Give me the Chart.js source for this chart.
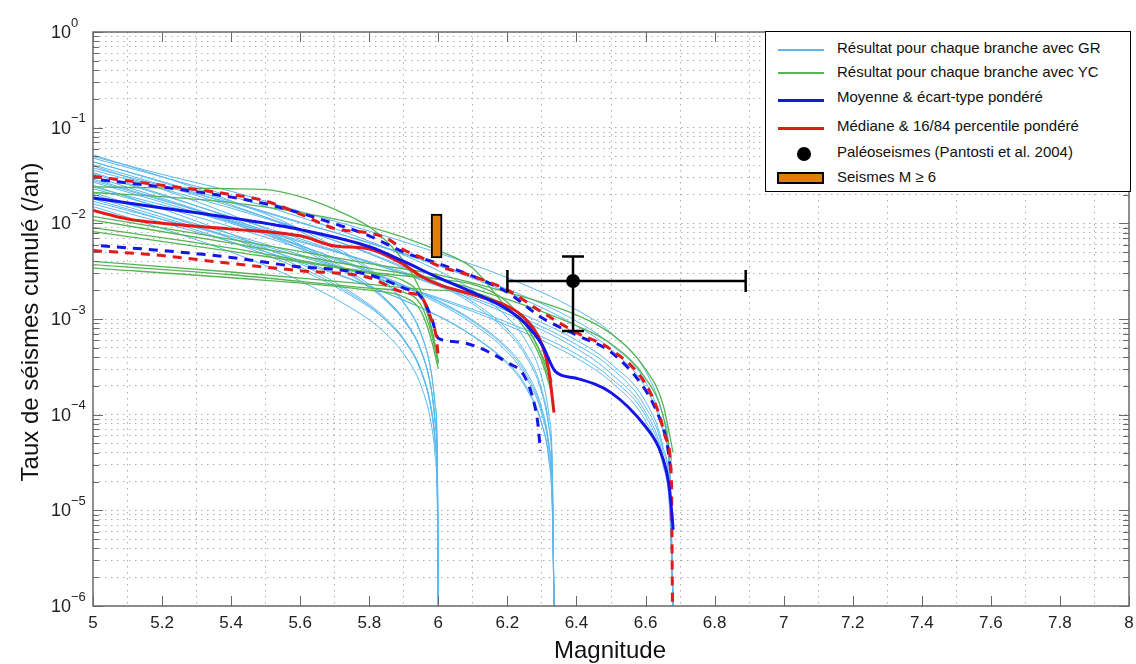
<!DOCTYPE html>
<html lang="fr">
<head>
<meta charset="utf-8">
<title>Taux de séismes cumulé</title>
<script src="https://cdn.jsdelivr.net/npm/chart.js@4.4.1/dist/chart.umd.min.js"></script>
<style>
  body { margin: 0; background: #fff; }
  #cadre { position: relative; width: 1136px; height: 664px; font-family: "Liberation Sans", Arial, sans-serif; color: #111; }
  #cadre canvas { position: absolute; left: 0; top: 0; }
  #legende { position: absolute; left: 765px; top: 31px; width: 364px; height: 159px; border: 1px solid #000; background: #fff; }
  #legende .txt { position: absolute; left: 71px; font-size: 15px; line-height: 18px; white-space: nowrap; }
  #legende .trait { position: absolute; left: 12px; width: 46px; }
  #titreX { position: absolute; left: 510px; width: 200px; top: 636px; text-align: center; font-size: 24px; }
  #titreY { position: absolute; left: 30px; top: 322px; width: 400px; margin-left: -200px; margin-top: -14px; text-align: center; font-size: 24px; line-height: 28px; transform: rotate(-90deg); white-space: nowrap; }
</style>
</head>
<body>
<div id="cadre">
  <canvas id="graphique" width="1136" height="664"></canvas>
  <div id="titreX">Magnitude</div>
  <div id="titreY">Taux de séismes cumulé (/an)</div>
  <div id="legende">
    <div class="trait" style="top:17px;height:1.5px;background:#5ab8ee"></div>
    <div class="txt" style="top:7px">Résultat pour chaque branche avec GR</div>
    <div class="trait" style="top:40px;height:1.5px;background:#55b555"></div>
    <div class="txt" style="top:31px">Résultat pour chaque branche avec YC</div>
    <div class="trait" style="top:67px;height:3px;background:#1515e6"></div>
    <div class="txt" style="top:56px">Moyenne &amp; écart-type pondéré</div>
    <div class="trait" style="top:95px;height:3px;background:#e31a1c"></div>
    <div class="txt" style="top:85px">Médiane &amp; 16/84 percentile pondéré</div>
    <div style="position:absolute;left:31px;top:115px;width:14px;height:14px;border-radius:50%;background:#000"></div>
    <div class="txt" style="top:111px">Paléoseismes (Pantosti et al. 2004)</div>
    <div style="position:absolute;left:11px;top:140px;width:43px;height:8px;border:2px solid #000;background:#de7f05"></div>
    <div class="txt" style="top:136px">Seismes M ≥ 6</div>
  </div>
</div>

<script>
// Magnitudes des branches GR (Mmax 6.0 / 6.33 / 6.68)
const magGR60 = [5, 5.2, 5.4, 5.6, 5.8, 5.85, 5.9, 5.95, 5.98, 5.99, 5.997, 6.0];
const magGR633 = [5, 5.2, 5.4, 5.6, 5.8, 6.0, 6.1, 6.2, 6.25, 6.3, 6.32, 6.33, 6.335];
const magGR668 = [5, 5.2, 5.4, 5.6, 5.8, 6.0, 6.2, 6.4, 6.5, 6.6, 6.65, 6.67, 6.68];

const tauxGR60 = [
  [0.052, 0.0307, 0.0172, 0.0087, 0.0034, 0.0024, 0.0015, 0.00071, 0.00027, 0.000135, 0.000042, 1e-6],
  [0.044, 0.0269, 0.0156, 0.0082, 0.00325, 0.0023, 0.00146, 0.00069, 0.00027, 0.000132, 0.00004, 1e-6],
  [0.040, 0.0227, 0.0123, 0.0060, 0.0023, 0.0016, 0.0010, 0.00047, 0.00018, 0.000092, 0.000026, 1e-6],
  [0.034, 0.0201, 0.0113, 0.0057, 0.0022, 0.00156, 0.00098, 0.00046, 0.00018, 0.000088, 0.000027, 1e-6],
  [0.029, 0.0177, 0.0103, 0.0054, 0.00214, 0.00152, 0.00096, 0.00046, 0.00018, 0.000087, 0.000027, 1e-6],
  [0.025, 0.0142, 0.0077, 0.0038, 0.00142, 0.0010, 0.00062, 0.00029, 0.000115, 0.000058, 0.000016, 1e-6],
  [0.021, 0.0124, 0.0070, 0.0035, 0.00137, 0.00096, 0.0006, 0.00029, 0.000109, 0.000055, 0.000017, 1e-6],
  [0.018, 0.0110, 0.0064, 0.0033, 0.00133, 0.00095, 0.0006, 0.00028, 0.00011, 0.000054, 0.000017, 1e-6],
  [0.015, 0.00885, 0.0050, 0.0025, 0.00098, 0.00069, 0.00043, 0.0002, 0.000078, 0.000039, 0.000012, 1e-6]
];
const tauxGR633 = [
  [0.048, 0.0306, 0.0192, 0.0116, 0.0065, 0.0032, 0.002, 0.00104, 0.00062, 0.00024, 0.0001, 0.000031, 1e-6],
  [0.041, 0.0251, 0.0151, 0.0088, 0.0048, 0.0023, 0.00143, 0.00073, 0.00043, 0.000168, 0.000074, 0.000026, 1e-6],
  [0.036, 0.023, 0.0144, 0.0087, 0.0049, 0.0024, 0.00151, 0.00078, 0.00046, 0.00018, 0.000076, 0.000023, 1e-6],
  [0.031, 0.0183, 0.0106, 0.0059, 0.0031, 0.00146, 0.00089, 0.00045, 0.00026, 0.0001, 0.000042, 0.000012, 1e-6],
  [0.027, 0.0166, 0.01, 0.0058, 0.0032, 0.00152, 0.00094, 0.00048, 0.00028, 0.00011, 0.000049, 0.000017, 1e-6],
  [0.023, 0.0147, 0.0092, 0.0055, 0.0031, 0.00155, 0.00097, 0.0005, 0.0003, 0.000115, 0.000048, 0.000015, 1e-6],
  [0.019, 0.0116, 0.007, 0.0041, 0.0022, 0.00107, 0.00066, 0.00034, 0.0002, 0.000078, 0.000034, 0.000012, 1e-6],
  [0.016, 0.0102, 0.0064, 0.0039, 0.0022, 0.00108, 0.00067, 0.00035, 0.00021, 0.00008, 0.000034, 0.00001, 1e-6]
];
const tauxGR668 = [
  [0.05, 0.0325, 0.0216, 0.0133, 0.0083, 0.0049, 0.0027, 0.00125, 0.00072, 0.000285, 0.000098, 0.000031, 1e-6],
  [0.044, 0.0274, 0.0169, 0.0103, 0.0062, 0.0036, 0.0019, 0.00085, 0.00048, 0.00019, 0.000067, 0.000022, 1e-6],
  [0.038, 0.0247, 0.0164, 0.0101, 0.0063, 0.0037, 0.00205, 0.00095, 0.00054, 0.00022, 0.000074, 0.000024, 1e-6],
  [0.033, 0.0197, 0.0117, 0.0069, 0.0039, 0.0022, 0.00113, 0.00049, 0.00027, 0.000106, 0.000037, 0.000012, 1e-6],
  [0.028, 0.0174, 0.0108, 0.0066, 0.0039, 0.00226, 0.00121, 0.00054, 0.00031, 0.00012, 0.000043, 0.000014, 1e-6],
  [0.024, 0.0156, 0.0104, 0.0064, 0.004, 0.00235, 0.0013, 0.0006, 0.00034, 0.000137, 0.000047, 0.000015, 1e-6],
  [0.02, 0.0125, 0.0077, 0.0047, 0.0028, 0.00162, 0.00086, 0.00039, 0.00022, 0.000086, 0.00003, 0.0000098, 1e-6],
  [0.017, 0.011, 0.0073, 0.0045, 0.0028, 0.00167, 0.00092, 0.00043, 0.00024, 0.000097, 0.000033, 0.0000105, 1e-6]
];

// Branches YC
const magYC = [
  [5, 5.2, 5.4, 5.5, 5.6, 5.7, 5.8, 5.85, 5.9, 5.95, 5.98, 6.0],
  [5, 5.2, 5.4, 5.6, 5.8, 6.0, 6.1, 6.2, 6.25, 6.3, 6.32, 6.33],
  [5, 5.4, 5.8, 6.0, 6.2, 6.4, 6.5, 6.6, 6.65, 6.68],
  [5, 5.4, 5.8, 6.0, 6.2, 6.4, 6.5, 6.6, 6.65, 6.675],
  [5, 5.4, 5.8, 6.0, 6.1, 6.2, 6.25, 6.3, 6.33],
  [5, 5.4, 5.8, 5.9, 5.95, 5.98, 6.0],
  [5, 5.4, 5.8, 6.0, 6.1, 6.2, 6.25, 6.3, 6.33],
  [5, 5.4, 5.8, 5.9, 5.95, 5.98, 6.0],
  [5, 5.4, 5.8, 5.9, 5.95, 5.98, 6.0]
];
const tauxYC = [
  [0.024, 0.0235, 0.023, 0.0225, 0.019, 0.014, 0.0092, 0.0065, 0.004, 0.0019, 0.0008, 0.00035],
  [0.021, 0.019, 0.0165, 0.013, 0.0092, 0.0052, 0.0034, 0.0013, 0.0009, 0.00042, 0.00028, 0.00022],
  [0.0118, 0.0068, 0.0038, 0.0029, 0.0019, 0.0011, 0.0007, 0.0003, 0.00013, 0.00004],
  [0.0108, 0.0062, 0.0034, 0.0026, 0.0016, 0.00085, 0.00055, 0.00024, 0.0001, 0.000033],
  [0.009, 0.0055, 0.0031, 0.0026, 0.0023, 0.0015, 0.0009, 0.0004, 0.00018],
  [0.0082, 0.0051, 0.003, 0.0025, 0.0017, 0.0008, 0.00036],
  [0.004, 0.0031, 0.0023, 0.002, 0.0019, 0.0013, 0.0008, 0.00036, 0.00016],
  [0.0037, 0.0029, 0.0021, 0.0019, 0.0014, 0.0007, 0.00034],
  [0.0034, 0.0027, 0.002, 0.0017, 0.0012, 0.0006, 0.0003]
];

// Moyenne & écart-type
const magMoyenne = [5, 5.2, 5.4, 5.6, 5.8, 5.9, 6.0, 6.1, 6.2, 6.25, 6.3, 6.34, 6.4, 6.5, 6.6, 6.64, 6.66, 6.67, 6.68];
const tauxMoyenne = [0.0184, 0.0145, 0.0114, 0.0086, 0.0057, 0.004, 0.0027, 0.0019, 0.00126, 0.00091, 0.00054, 0.00028, 0.00024, 0.00017, 0.000075, 0.000044, 0.000026, 0.000016, 0.0000063];
const magEcartHaut = [5, 5.2, 5.4, 5.5, 5.6, 5.7, 5.8, 5.9, 6.0, 6.1, 6.2, 6.3, 6.4, 6.5, 6.6, 6.64, 6.66, 6.675];
const tauxEcartHaut = [0.029, 0.024, 0.0188, 0.016, 0.0128, 0.0099, 0.0074, 0.005, 0.0038, 0.0028, 0.0019, 0.00103, 0.00068, 0.00045, 0.00018, 0.000093, 0.000055, 0.000024];
const magEcartBas = [5, 5.2, 5.4, 5.6, 5.7, 5.8, 5.9, 5.95, 5.98, 6.0, 6.05, 6.1, 6.2, 6.25, 6.28, 6.29, 6.295];
const tauxEcartBas = [0.0059, 0.0052, 0.0044, 0.0035, 0.0033, 0.0029, 0.0021, 0.0017, 0.00103, 0.00063, 0.00058, 0.00053, 0.00035, 0.00025, 0.00012, 0.000071, 0.000042];

// Médiane & percentiles 16/84
const magMediane = [5, 5.1, 5.2, 5.4, 5.6, 5.7, 5.8, 5.9, 5.95, 6.0, 6.1, 6.2, 6.25, 6.3, 6.32, 6.335];
const tauxMediane = [0.0136, 0.0111, 0.01, 0.0087, 0.0074, 0.0058, 0.0054, 0.0037, 0.0028, 0.0023, 0.0018, 0.00136, 0.00102, 0.00054, 0.00029, 0.000105];
const magP84 = [5, 5.2, 5.4, 5.5, 5.6, 5.7, 5.8, 5.85, 5.9, 5.95, 6.0, 6.1, 6.2, 6.3, 6.4, 6.5, 6.6, 6.64, 6.66, 6.675, 6.678];
const tauxP84 = [0.031, 0.025, 0.020, 0.0171, 0.0125, 0.0088, 0.0079, 0.0070, 0.0053, 0.0044, 0.0036, 0.0028, 0.002, 0.00118, 0.00072, 0.00048, 0.00021, 0.0001, 0.000055, 0.000021, 1e-6];
const magP16 = [5, 5.2, 5.4, 5.6, 5.8, 5.9, 5.95, 5.98, 5.995, 6.0];
const tauxP16 = [0.0052, 0.0046, 0.0038, 0.0032, 0.0027, 0.0019, 0.0017, 0.00098, 0.00061, 0.00039];

// Paléoseismes (Pantosti et al. 2004)
const magPaleo = [6.39];
const tauxPaleo = [0.0025];
const magPaleoMin = [6.2], magPaleoMax = [6.89];
const tauxPaleoMin = [0.00075], tauxPaleoMax = [0.0045];

// Seismes historiques M >= 6
const magHisto = [5.995];
const tauxHisto = [[0.00435, 0.0125]];

// axes
const ticksX = [5, 5.2, 5.4, 5.6, 5.8, 6, 6.2, 6.4, 6.6, 6.8, 7, 7.2, 7.4, 7.6, 7.8, 8];
const puissances = [0, -1, -2, -3, -4, -5, -6];

const bleuClair = "#5ab8ee";
const vert = "#55b555";
const bleu = "#1515e6";
const rouge = "#e31a1c";

function courbe(mags, taux, couleur, largeur, extra) {
  return Object.assign(
    {
      type: "line",
      data: mags.map((m, i) => ({ x: m, y: taux[i] })),
      borderColor: couleur,
      borderWidth: largeur,
      pointRadius: 0,
      fill: false,
      cubicInterpolationMode: "monotone",
    },
    extra
  );
}

const datasets = [];

// points et barres en premier (dessinés au-dessus)
datasets.push({
  type: "line",
  data: magPaleo.map((m, i) => ({ x: m, y: tauxPaleo[i] })),
  showLine: false,
  pointRadius: 7,
  pointBackgroundColor: "#000",
  pointBorderWidth: 0,
  order: 0,
});
datasets.push({
  type: "bar",
  data: magHisto.map((m, i) => ({ x: m, y: tauxHisto[i] })),
  backgroundColor: "#de7f05",
  borderColor: "#000",
  borderWidth: 2,
  borderSkipped: false,
  barThickness: 11,
  order: 0,
});

datasets.push(courbe(magMoyenne, tauxMoyenne, bleu, 3, { order: 1 }));
datasets.push(courbe(magMediane, tauxMediane, rouge, 3, { order: 1 }));
datasets.push(courbe(magP84, tauxP84, rouge, 3, { order: 2, borderDash: [9, 7] }));
datasets.push(courbe(magEcartHaut, tauxEcartHaut, bleu, 3, { order: 2, borderDash: [9, 7], borderDashOffset: 8 }));
datasets.push(courbe(magP16, tauxP16, rouge, 3, { order: 2, borderDash: [9, 7] }));
datasets.push(courbe(magEcartBas, tauxEcartBas, bleu, 3, { order: 2, borderDash: [9, 7], borderDashOffset: 8 }));

magYC.forEach((m, i) => datasets.push(courbe(m, tauxYC[i], vert, 1.3, { order: 4 })));
tauxGR60.forEach((t) => datasets.push(courbe(magGR60, t, bleuClair, 1, { order: 5 })));
tauxGR633.forEach((t) => datasets.push(courbe(magGR633, t, bleuClair, 1, { order: 5 })));
tauxGR668.forEach((t) => datasets.push(courbe(magGR668, t, bleuClair, 1, { order: 5 })));

// =============================
// Cadre, graduations, barres d'erreur
// =============================
const cadre = {
  id: "cadre",
  afterDatasetsDraw(chart) {
    const { ctx, scales } = chart;
    const x = scales.x, y = scales.y;
    const px = x.getPixelForValue(magPaleo[0]);
    const py = y.getPixelForValue(tauxPaleo[0]);
    const x1 = x.getPixelForValue(magPaleoMin[0]);
    const x2 = x.getPixelForValue(magPaleoMax[0]);
    const y1 = y.getPixelForValue(tauxPaleoMin[0]);
    const y2 = y.getPixelForValue(tauxPaleoMax[0]);
    ctx.save();
    ctx.strokeStyle = "#000";
    ctx.lineWidth = 2.5;
    ctx.beginPath();
    ctx.moveTo(x1, py); ctx.lineTo(x2, py);
    ctx.moveTo(x1, py - 11); ctx.lineTo(x1, py + 11);
    ctx.moveTo(x2, py - 11); ctx.lineTo(x2, py + 11);
    ctx.moveTo(px, y1); ctx.lineTo(px, y2);
    ctx.moveTo(px - 11, y1); ctx.lineTo(px + 11, y1);
    ctx.moveTo(px - 11, y2); ctx.lineTo(px + 11, y2);
    ctx.stroke();
    ctx.restore();
  },
  afterDraw(chart) {
    const { ctx, chartArea: a, scales } = chart;
    const x = scales.x, y = scales.y;
    ctx.save();
    ctx.strokeStyle = "#6a6a6a";
    ctx.lineWidth = 1;
    ctx.beginPath();
    x.ticks.forEach((t) => {
      const xx = Math.round(x.getPixelForValue(t.value)) + 0.5;
      ctx.moveTo(xx, a.bottom); ctx.lineTo(xx, a.bottom - 10);
      ctx.moveTo(xx, a.top); ctx.lineTo(xx, a.top + 10);
    });
    y.ticks.forEach((t) => {
      const yy = Math.round(y.getPixelForValue(t.value)) + 0.5;
      const l = Number.isInteger(Math.log10(t.value)) ? 10 : 6;
      ctx.moveTo(a.left, yy); ctx.lineTo(a.left + l, yy);
      ctx.moveTo(a.right, yy); ctx.lineTo(a.right - l, yy);
    });
    ctx.stroke();
    ctx.lineWidth = 1.5;
    ctx.strokeRect(a.left, a.top, a.right - a.left, a.bottom - a.top);

    ctx.fillStyle = "#222";
    puissances.forEach((k) => {
      const yy = y.getPixelForValue(Math.pow(10, k));
      ctx.font = '18px "Liberation Sans", Arial, sans-serif';
      ctx.textAlign = "right";
      ctx.textBaseline = "middle";
      ctx.fillText("10", 71, yy + 1);
      ctx.font = '13px "Liberation Sans", Arial, sans-serif';
      ctx.textAlign = "left";
      ctx.fillText(k === 0 ? "0" : "\u2212" + -k, 71, yy - 9);
    });
    ctx.restore();
  },
};

const valeursY = [];
puissances.slice().reverse().forEach((k) => {
  for (let s = 1; s <= 9; s++) {
    if (k === 0 && s > 1) break;
    valeursY.push(s * Math.pow(10, k));
  }
});

new Chart(document.getElementById("graphique"), {
  type: "line",
  data: { datasets: datasets },
  options: {
    responsive: false,
    animation: false,
    layout: { padding: { left: 0, top: 32, right: 5, bottom: 0 } },
    plugins: { legend: { display: false }, tooltip: { enabled: false } },
    scales: {
      x: {
        type: "linear",
        min: 5,
        max: 8,
        offset: false,
        afterFit: (s) => {
          s.height = 58;
          s.paddingLeft = 0;
          s.paddingRight = 0;
        },
        afterBuildTicks: (s) => { s.ticks = ticksX.map((v) => ({ value: v })); },
        ticks: {
          autoSkip: false,
          maxRotation: 0,
          padding: 7,
          color: "#222",
          font: { family: "Liberation Sans", size: 17 },
          callback: (v) => String(Number(v.toFixed(1))),
        },
        grid: { color: "#b0b0b0", lineWidth: 1, drawTicks: false },
        border: { display: false, dash: [1.5, 4.5] },
      },
      y: {
        type: "logarithmic",
        min: 1e-6,
        max: 1,
        afterFit: (s) => {
          s.width = 93;
          s.paddingTop = 0;
          s.paddingBottom = 0;
        },
        afterBuildTicks: (s) => { s.ticks = valeursY.map((v) => ({ value: v })); },
        ticks: { display: false },
        grid: { color: "#b0b0b0", lineWidth: 1, drawTicks: false },
        border: { display: false, dash: [1.5, 4.5] },
      },
    },
  },
  plugins: [cadre],
});
</script>
</body>
</html>
